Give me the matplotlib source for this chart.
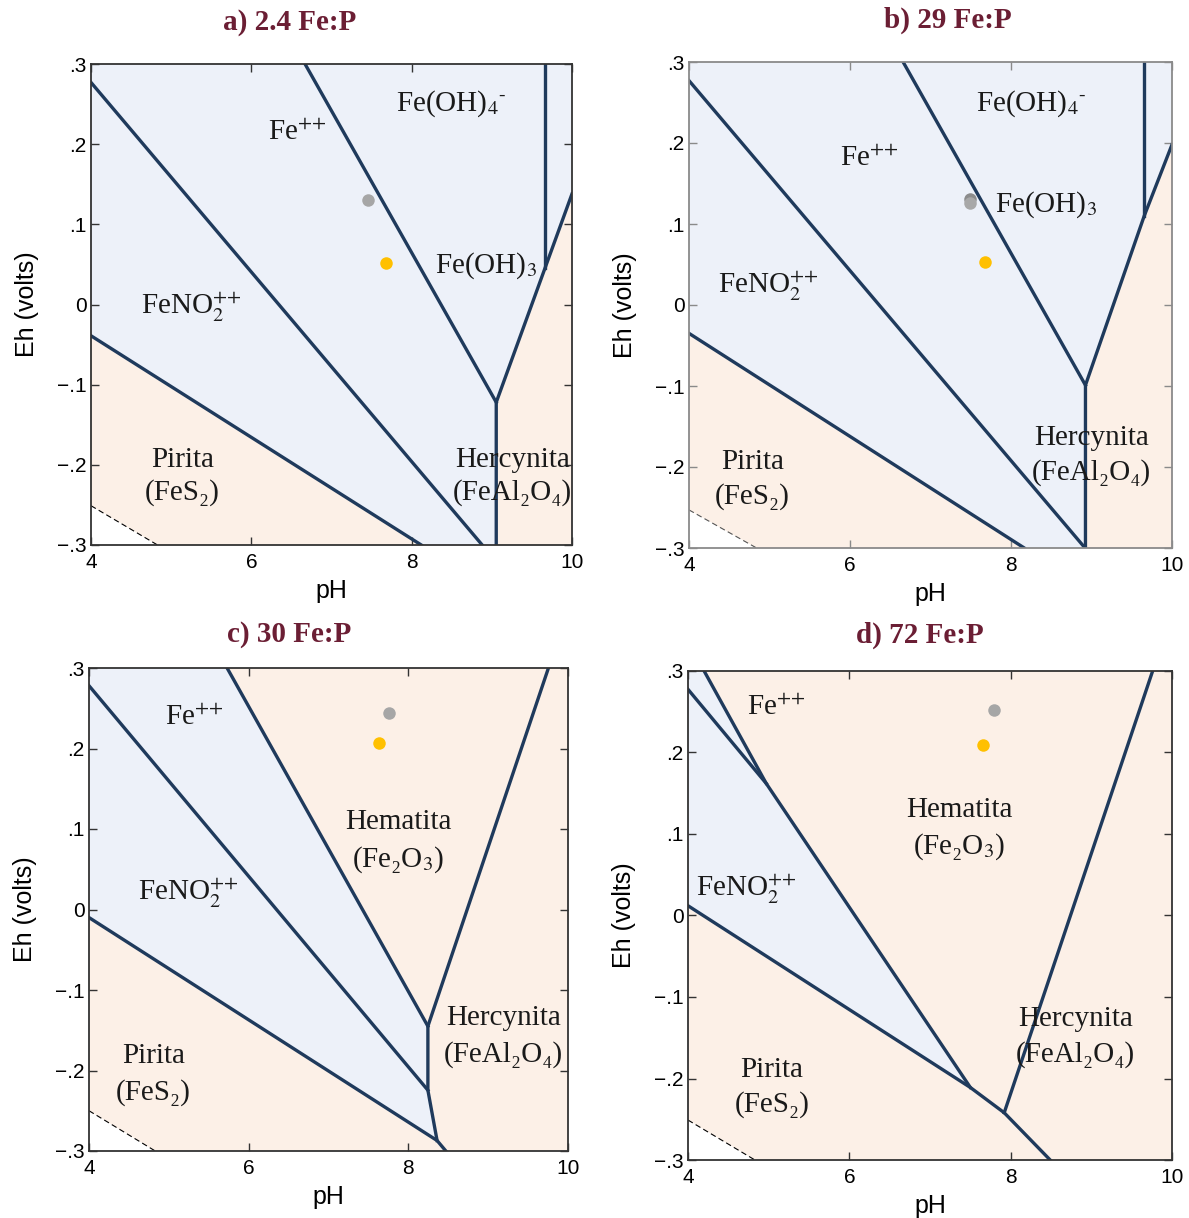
import matplotlib
matplotlib.use("Agg")
import matplotlib.pyplot as plt
from matplotlib.patches import Polygon

plt.rcParams['mathtext.fontset'] = 'stix'

BLUE = '#EDF1F9'
PEACH = '#FCF0E7'
LINE = '#1F3A5C'
TITLE = '#6B1E34'

ph_ticks = [4, 6, 8, 10]
eh_ticks = [-0.3, -0.2, -0.1, 0.0, 0.1, 0.2, 0.3]
eh_ticklabels = ['\u2212.3', '\u2212.2', '\u2212.1', '0', '.1', '.2', '.3']

titles = ['a) 2.4 Fe:P', 'b) 29 Fe:P', 'c) 30 Fe:P', 'd) 72 Fe:P']

FE2 = 'Fe$^{{+}{+}}$'
FENO2 = 'FeNO$_2^{{+}{+}}$'
FEOH4 = 'Fe(OH)$_4{}^{\\text{-}}$'
FEOH3 = 'Fe(OH)$_3$'

# ---- a) 2.4 Fe:P ----
a_lines = [
    [(4.0, -0.039), (8.12, -0.30)],
    [(4.0, 0.277), (8.88, -0.30)],
    [(6.67, 0.30), (9.055, -0.122)],
    [(9.055, -0.30), (9.055, -0.122), (10.0, 0.138)],
    [(9.66, 0.30), (9.66, 0.045)],
]
a_fill = [
    [(4.0, -0.039), (8.12, -0.30), (4.0, -0.30)],
    [(9.055, -0.30), (9.055, -0.122), (10.0, 0.138), (10.0, -0.30)],
]
a_dash = [(4.0, -0.251), (4.83, -0.30)]
a_labels = [
    (FE2, 6.57, 0.214),
    (FEOH4, 8.50, 0.251),
    (FEOH3, 8.93, 0.049),
    (FENO2, 5.25, -0.004),
    ('Pirita', 5.14, -0.194),
    ('(FeS\u2082)', 5.14, -0.235),
    ('Hercynita', 9.26, -0.194),
    ('(FeAl\u2082O\u2084)', 9.26, -0.235),
]
a_grey = [(7.46, 0.130)]
a_gold = [(7.68, 0.052)]

# ---- b) 29 Fe:P ----
b_lines = [
    [(4.0, -0.035), (8.165, -0.30)],
    [(4.0, 0.277), (8.92, -0.30)],
    [(6.66, 0.30), (8.925, -0.099)],
    [(8.925, -0.30), (8.925, -0.099), (9.655, 0.11), (10.0, 0.198)],
    [(9.655, 0.30), (9.655, 0.11)],
]
b_fill = [
    [(4.0, -0.035), (8.165, -0.30), (4.0, -0.30)],
    [(8.925, -0.30), (8.925, -0.099), (9.655, 0.11), (10.0, 0.198), (10.0, -0.30)],
]
b_dash = [(4.0, -0.253), (4.84, -0.30)]
b_labels = [
    (FE2, 6.24, 0.180),
    (FEOH4, 8.25, 0.249),
    (FEOH3, 8.44, 0.124),
    (FENO2, 4.98, 0.023),
    ('Pirita', 4.79, -0.194),
    ('(FeS\u2082)', 4.79, -0.236),
    ('Hercynita', 9.00, -0.164),
    ('(FeAl\u2082O\u2084)', 9.00, -0.207),
]
b_grey = [(7.495, 0.131), (7.495, 0.126)]
b_gold = [(7.68, 0.053)]

# ---- c) 30 Fe:P ----
c_lines = [
    [(4.0, -0.010), (8.36, -0.287), (8.47, -0.30)],
    [(4.0, 0.278), (8.245, -0.2245)],
    [(5.73, 0.30), (8.245, -0.145)],
    [(8.36, -0.287), (8.245, -0.2245), (8.245, -0.145), (9.755, 0.30)],
]
c_fill = [
    [(4.0, 0.30), (5.73, 0.30), (8.245, -0.145), (8.245, -0.2245),
     (8.36, -0.287), (4.0, -0.010)],
]
c_dash = [(4.0, -0.250), (4.83, -0.30)]
c_labels = [
    (FE2, 5.32, 0.238),
    ('Hematita', 7.875, 0.109),
    ('(Fe\u2082O$_3$)', 7.875, 0.062),
    (FENO2, 5.24, 0.020),
    ('Pirita', 4.81, -0.182),
    ('(FeS\u2082)', 4.81, -0.227),
    ('Hercynita', 9.19, -0.135),
    ('(FeAl\u2082O\u2084)', 9.19, -0.180),
]
c_grey = [(7.755, 0.244)]
c_gold = [(7.63, 0.207)]

# ---- d) 72 Fe:P ----
d_lines = [
    [(4.0, 0.012), (7.50, -0.211), (7.92, -0.242), (8.49, -0.30)],
    [(4.0, 0.2775), (4.97, 0.162)],
    [(4.2, 0.30), (4.97, 0.162), (7.50, -0.211)],
    [(7.92, -0.242), (9.76, 0.30)],
]
d_fill = [
    [(4.0, 0.30), (4.2, 0.30), (4.97, 0.162), (7.50, -0.211), (4.0, 0.012)],
]
d_dash = [(4.0, -0.251), (4.83, -0.30)]
d_labels = [
    (FE2, 5.09, 0.255),
    ('Hematita', 7.36, 0.129),
    ('(Fe\u2082O$_3$)', 7.36, 0.084),
    (FENO2, 4.72, 0.031),
    ('Pirita', 5.04, -0.189),
    ('(FeS\u2082)', 5.04, -0.232),
    ('Hercynita', 8.80, -0.127),
    ('(FeAl\u2082O\u2084)', 8.80, -0.171),
]
d_grey = [(7.79, 0.252)]
d_gold = [(7.66, 0.209)]

W, H = 1189, 1218
# axes boxes in pixels: left, top, right, bottom
boxes = [(91, 64, 572, 545), (689, 62, 1172, 548),
         (89, 668, 568, 1151), (688, 671, 1172, 1160)]
title_xy = [(290, 22), (948, 20), (289, 635), (920, 635)]

panels = [
    (a_lines, a_fill, BLUE, PEACH, a_dash, a_labels, a_grey, a_gold, '#333333'),
    (b_lines, b_fill, BLUE, PEACH, b_dash, b_labels, b_grey, b_gold, '#8a8a8a'),
    (c_lines, c_fill, PEACH, BLUE, c_dash, c_labels, c_grey, c_gold, '#333333'),
    (d_lines, d_fill, PEACH, BLUE, d_dash, d_labels, d_grey, d_gold, '#333333'),
]

fig = plt.figure(figsize=(W / 100, H / 100), dpi=100)

for i, (lines, fills, base, fillc, dash, labels, grey, gold, spc) in enumerate(panels):
    l, t, r, b = boxes[i]
    ax = fig.add_axes([l / W, 1 - b / H, (r - l) / W, (b - t) / H])
    ax.set_facecolor(base)
    for poly in fills:
        ax.add_patch(Polygon(poly, closed=True, facecolor=fillc, edgecolor='none', zorder=1))
    # unstable corner below the dashed water line
    ax.add_patch(Polygon(dash + [(4.0, -0.30)], closed=True, facecolor='white',
                         edgecolor='none', zorder=1.5))
    ax.plot([p[0] for p in dash], [p[1] for p in dash], ls=(0, (5, 3)),
            color='#555555' if i == 1 else 'black', lw=0.8, zorder=2)
    for ln in lines:
        ax.plot([p[0] for p in ln], [p[1] for p in ln], color=LINE, lw=2.4,
                solid_joinstyle='miter', zorder=3)
    for txt, x, y in labels:
        ax.text(x, y, txt, ha='center', va='center', fontsize=21,
                family=['Liberation Serif', 'DejaVu Serif'], color='#1a1a1a', zorder=4)
    shades = ['#8c8c8c', '#a8a8a8'] if len(grey) > 1 else ['#a6a6a6']
    for (x, y), c in zip(grey, shades):
        ax.plot(x, y, 'o', ms=9, color=c, mec='none', zorder=5)
    for x, y in gold:
        ax.plot(x, y, 'o', ms=9, color='#FFC000', mec='none', zorder=5)

    ax.set_xlim(4, 10)
    ax.set_ylim(-0.3, 0.3)
    ax.set_xticks(ph_ticks)
    ax.set_xticklabels([str(v) for v in ph_ticks])
    ax.set_yticks(eh_ticks)
    ax.set_yticklabels(eh_ticklabels)
    ax.tick_params(direction='in', top=True, right=True, length=6, width=1,
                   color=spc, labelsize=15, pad=3)
    ax.tick_params(axis='x', pad=6)
    for s in ax.spines.values():
        s.set_color(spc)
        s.set_linewidth(1.3)
        s.set_zorder(6)
    for lab in ax.get_xticklabels() + ax.get_yticklabels():
        lab.set_family('Liberation Sans')
    ax.set_xlabel('pH', fontsize=18, family='Liberation Sans')
    ax.set_ylabel('Eh (volts)', fontsize=18, family='Liberation Sans')
    ax.xaxis.label.set_va('center')
    ax.yaxis.label.set_va('center')
    ax.xaxis.set_label_coords(0.5, -0.095)
    ax.yaxis.set_label_coords(-0.133, 0.5)

    tx, ty = title_xy[i]
    fig.text(tx / W, 1 - ty / H, titles[i], ha='center', va='center', fontsize=21,
             fontweight='bold', family='Liberation Serif', color=TITLE)

fig.savefig('out.png', dpi=100)
